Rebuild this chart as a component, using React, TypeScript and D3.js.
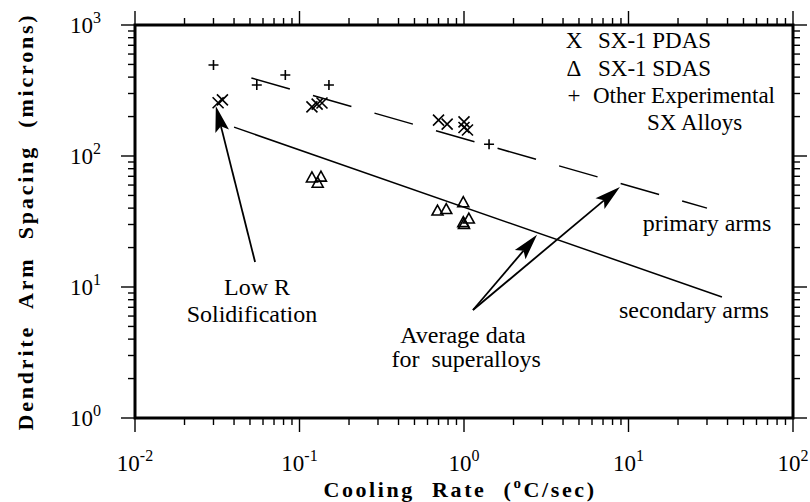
import * as d3 from "d3";

// SX-1 primary dendrite arm spacing (X markers)
const pdasRate = [0.032, 0.034, 0.119, 0.128, 0.137, 0.7, 0.79, 1.0, 1.05, 1.0];
const pdasSpacing = [255, 268, 237, 249, 254, 188, 175, 182, 158, 165];

// SX-1 secondary dendrite arm spacing (triangles)
const sdasRate = [0.119, 0.135, 0.129, 0.69, 0.78, 0.99, 1.07, 0.99, 1.0];
const sdasSpacing = [68, 69, 62, 38, 39, 44, 33, 31, 30];

// other experimental SX alloys (+)
const otherRate = [0.03, 0.055, 0.082, 0.151, 1.42];
const otherSpacing = [495, 348, 415, 348, 123];

// average data for superalloys
const primaryRate = [0.051, 30];
const primarySpacing = [394, 40];
const secondaryRate = [0.04, 37];
const secondarySpacing = [166, 8.4];

const xTickExp = [-2, -1, 0, 1, 2];
const yTickExp = [0, 1, 2, 3];

const legendItems = ["SX-1 PDAS", "SX-1 SDAS", "Other Experimental"];
const legendSymbols = ["X", "\u0394", "+"];

const W = 810;
const H = 502;
const FONT = '"Liberation Serif", "Times New Roman", serif';

export default function App() {
	const x = d3.scaleLog().domain([0.01, 100]).range([135, 793]);
	const y = d3.scaleLog().domain([1, 1000]).range([418, 25]);

	const [x0, x1] = x.range();
	const [y0, y1] = y.range();

	const isMajor = (v: number) =>
		Math.abs(Math.log10(v) - Math.round(Math.log10(v))) < 1e-9;

	const xt = x.ticks();
	const yt = y.ticks();

	const line = d3
		.line<[number, number]>()
		.x((d) => x(d[0]))
		.y((d) => y(d[1]));

	const primaryPts = primaryRate.map((r, i) => [r, primarySpacing[i]] as [number, number]);
	const secondaryPts = secondaryRate.map((r, i) => [r, secondarySpacing[i]] as [number, number]);

	const arrow = (from: [number, number], to: [number, number], key: string) => {
		const ax = x(from[0]);
		const ay = y(from[1]);
		const bx = x(to[0]);
		const by = y(to[1]);
		const dx = bx - ax;
		const dy = by - ay;
		const len = Math.hypot(dx, dy);
		const ux = dx / len;
		const uy = dy / len;
		const hl = 26;
		const hw = 7;
		const baseX = bx - ux * hl;
		const baseY = by - uy * hl;
		const notchX = bx - ux * hl * 0.8;
		const notchY = by - uy * hl * 0.8;
		const head = `M${bx},${by}L${baseX - uy * hw},${baseY + ux * hw}L${notchX},${notchY}L${baseX + uy * hw},${baseY - ux * hw}Z`;
		return (
			<g key={key}>
				<line x1={ax} y1={ay} x2={notchX} y2={notchY} stroke="#000" strokeWidth={1.8} />
				<path d={head} fill="#000" />
			</g>
		);
	};

	const labels: [string, number, number][] = [
		["Low R", 0.0552, 8.7],
		["Solidification", 0.0514, 5.4],
		["Average data", 0.986, 3.74],
		["for  superalloys", 1.03, 2.45],
		["primary arms", 30, 26.7],
		["secondary arms", 25, 5.8],
	];

	const txt = { fontFamily: FONT };

	return (
		<svg
			width={W}
			height={H}
			style={{ position: "absolute", left: 0, top: 0, background: "#fff", fontFamily: FONT }}
		>
			<rect width={W} height={H} fill="#fff" />

			{/* ticks on all four sides, pointing outward */}
			{xt.map((v, i) => {
				const m = isMajor(v);
				const px = x(v);
				return (
					<g key={`xt${i}`} stroke="#000" strokeWidth={1.4}>
						<line x1={px} x2={px} y1={y0} y2={y0 + (m ? 14 : 7)} />
						<line x1={px} x2={px} y1={y1} y2={y1 - (m ? 14 : 7)} />
					</g>
				);
			})}
			{yt.map((v, i) => {
				const m = isMajor(v);
				const py = y(v);
				return (
					<g key={`yt${i}`} stroke="#000" strokeWidth={1.4}>
						<line x1={x0} x2={x0 - (m ? 14 : 7)} y1={py} y2={py} />
						<line x1={x1} x2={x1 + (m ? 14 : 7)} y1={py} y2={py} />
					</g>
				);
			})}

			<rect
				x={x0}
				y={y1}
				width={x1 - x0}
				height={y0 - y1}
				fill="none"
				stroke="#000"
				strokeWidth={3}
			/>

			{/* tick labels */}
			{xTickExp.map((e) => (
				<text key={`xl${e}`} x={x(Math.pow(10, e))} y={471} textAnchor="middle" fontSize={23} style={txt}>
					10
					<tspan fontSize={16} dy={-10}>
						{e}
					</tspan>
				</text>
			))}
			{yTickExp.map((e) => (
				<text key={`yl${e}`} x={101} y={y(Math.pow(10, e)) + 8} textAnchor="end" fontSize={23} style={txt}>
					10
					<tspan fontSize={16} dy={-10}>
						{e}
					</tspan>
				</text>
			))}

			{/* axis titles */}
			<text
				x={460}
				y={497}
				textAnchor="middle"
				fontSize={22}
				fontWeight="bold"
				letterSpacing={2.6}
				wordSpacing={9}
				style={txt}
			>
				Cooling Rate (
				<tspan fontSize={15} dy={-9}>
					o
				</tspan>
				<tspan dy={9}>C/sec)</tspan>
			</text>
			<text
				transform={`translate(33,${(y0 + y1) / 2})rotate(-90)`}
				textAnchor="middle"
				fontSize={22}
				fontWeight="bold"
				letterSpacing={2.8}
				wordSpacing={9}
				style={txt}
			>
				Dendrite Arm Spacing (microns)
			</text>

			{/* average-data lines */}
			<path
				d={line(primaryPts) ?? ""}
				fill="none"
				stroke="#000"
				strokeWidth={1.5}
				strokeDasharray="40 24"
			/>
			<path d={line(secondaryPts) ?? ""} fill="none" stroke="#000" strokeWidth={1.5} />

			{/* data markers */}
			{pdasRate.map((r, i) => {
				const px = x(r);
				const py = y(pdasSpacing[i]);
				const s = 5.5;
				return (
					<path
						key={`p${i}`}
						d={`M${px - s},${py - s}L${px + s},${py + s}M${px - s},${py + s}L${px + s},${py - s}`}
						stroke="#000"
						strokeWidth={1.6}
					/>
				);
			})}
			{sdasRate.map((r, i) => {
				const px = x(r);
				const py = y(sdasSpacing[i]);
				return (
					<path
						key={`s${i}`}
						d={`M${px},${py - 6}L${px + 5.5},${py + 4}L${px - 5.5},${py + 4}Z`}
						fill="none"
						stroke="#000"
						strokeWidth={1.6}
					/>
				);
			})}
			{otherRate.map((r, i) => {
				const px = x(r);
				const py = y(otherSpacing[i]);
				const s = 5;
				return (
					<path
						key={`o${i}`}
						d={`M${px - s},${py}L${px + s},${py}M${px},${py - s}L${px},${py + s}`}
						stroke="#000"
						strokeWidth={1.6}
					/>
				);
			})}

			{/* annotation arrows */}
			{arrow([0.0537, 15.5], [0.031, 241], "a1")}
			{arrow([1.134, 6.67], [2.78, 25], "a2")}
			{arrow([1.134, 6.67], [8.87, 58], "a3")}

			{labels.map(([t, r, s], i) => (
				<text
					key={`lab${i}`}
					x={x(r)}
					y={y(s)}
					textAnchor="middle"
					fontSize={24}
					style={{ whiteSpace: "pre", fontFamily: FONT }}
				>
					{t}
				</text>
			))}

			{/* legend */}
			{legendItems.map((t, i) => (
				<g key={`lg${i}`} fontSize={23} style={txt}>
					<text x={574} y={48 + i * 27.5} textAnchor="middle" style={txt}>
						{legendSymbols[i]}
					</text>
					<text x={i === 2 ? 593 : 598} y={48 + i * 27.5} style={txt}>
						{t}
					</text>
				</g>
			))}
			<text x={647} y={130} fontSize={23} style={txt}>
				SX Alloys
			</text>
		</svg>
	);
}
